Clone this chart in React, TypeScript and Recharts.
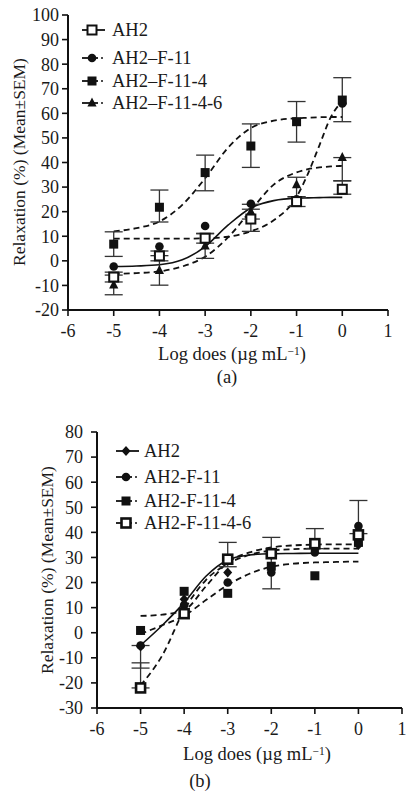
import React from "react";
import { ComposedChart, Line, XAxis, YAxis, ErrorBar } from "recharts";

const FONT = '"Liberation Serif", Tinos, "Times New Roman", "DejaVu Serif", serif';

// shared
const doses = [-5, -4, -3, -2, -1, 0];
const xTicks = [-6, -5, -4, -3, -2, -1, 0, 1];
const fitX = [-5, -4.5, -4, -3.5, -3, -2.5, -2, -1.5, -1, -0.75, -0.5, -0.25, 0];
const yTicksA = [-20, -10, 0, 10, 20, 30, 40, 50, 60, 70, 80, 90, 100];
const yTicksB = [-30, -20, -10, 0, 10, 20, 30, 40, 50, 60, 70, 80];
const namesA = ["AH2", "AH2\u2013F-11", "AH2\u2013F-11-4", "AH2\u2013F-11-4-6"];
const namesB = ["AH2", "AH2-F-11", "AH2-F-11-4", "AH2-F-11-4-6"];

// panel (a) means and errors [down, up]
const aAh2 = [-6.6, 2.0, 9.2, 17, 24.1, 29.1];
const aAh2Err = [[2, 2], [2, 2], [2, 2], [5, 4], [2, 2], [2, 3.5]];
const aF11 = [-2.3, 5.8, 14.2, 23.2, 25, 64];
const aF114 = [6.8, 21.8, 35.9, 46.7, 56.6, 65.4];
const aF114Err = [[5, 5], [6, 7], [7.4, 7.1], [8.7, 9], [8.3, 8.2], [8.8, 9.1]];
const aF1146 = [-9.8, -3.9, 6, 20, 31, 42];
const aF1146Err = [[4, 4], [6, 6], [5, 5], [3, 3], [5, 3], [9.5, 0]];
// panel (a) fitted curves at fitX
const aAh2Fit = [-2.3, -2.1, -1.6, 0.4, 5.8, 14.5, 21.5, 24.5, 25.5, 25.6, 25.7, 25.8, 25.8];
const aF11Fit = [9, 9, 9, 9, 9.2, 9.8, 12, 16.5, 26, 35.5, 47, 58.5, 65];
const aF114Fit = [12, 13.3, 16, 22.8, 33.6, 46, 54, 57, 58, 58.2, 58.4, 58.5, 58.5];
const aF1146Fit = [-5.3, -5, -4.3, -2.3, 1.7, 9.5, 20.5, 31, 36, 37.3, 38, 38.4, 38.6];

// panel (b)
const bAh2 = [-5.5, 13.3, 24, 31, 33, 35];
const bF11 = [-5.1, 11, 20, 24, 32, 42.5];
const bF11Err = [[9, 0], null, null, null, null, [3, 10.2]];
const bF114 = [0.9, 16.5, 15.7, 26.5, 22.7, 36];
const bF114Err = [null, null, null, [9, 11.5], null, null];
const bF1146 = [-22, 7.6, 29.3, 31.5, 35.5, 39];
const bF1146Err = [[0, 10], null, [3, 6.7], null, [2, 6], null];
const bAh2Fit = [-5, 3, 12, 22.5, 29, 31, 31.5, 31.6, 31.7, 31.7, 31.7, 31.7, 31.7];
const bF11Fit = [6.7, 7.2, 9, 18.5, 28, 32, 34, 34.8, 35.1, 35.2, 35.2, 35.2, 35.2];
const bF114Fit = [-0.5, 3, 6.7, 13, 19, 23.5, 26.3, 27.5, 28, 28.1, 28.2, 28.3, 28.3];
const bF1146Fit = [-21, -9, 9, 21, 27.5, 31, 32.8, 33.3, 33.5, 33.5, 33.5, 33.5, 33.5];

type S = {
  key: string;
  mean: number[];
  err?: (number[] | null)[];
  fit: number[];
  shape: string;
  solid: boolean;
};

const seriesA: S[] = [
  { key: "ah2", mean: aAh2, err: aAh2Err, fit: aAh2Fit, shape: "open", solid: true },
  { key: "f11", mean: aF11, fit: aF11Fit, shape: "circle", solid: false },
  { key: "f114", mean: aF114, err: aF114Err, fit: aF114Fit, shape: "square", solid: false },
  { key: "f1146", mean: aF1146, err: aF1146Err, fit: aF1146Fit, shape: "triangle", solid: false },
];
const seriesB: S[] = [
  { key: "ah2", mean: bAh2, fit: bAh2Fit, shape: "diamond", solid: true },
  { key: "f11", mean: bF11, err: bF11Err, fit: bF11Fit, shape: "circle", solid: false },
  { key: "f114", mean: bF114, err: bF114Err, fit: bF114Fit, shape: "square", solid: false },
  { key: "f1146", mean: bF1146, err: bF1146Err, fit: bF1146Fit, shape: "openThick", solid: false },
];
const drawOrderA = ["f11", "f1146", "f114", "ah2"];
const drawOrderB = ["ah2", "f11", "f114", "f1146"];

function buildRows(list: S[]) {
  const xs = Array.from(new Set([...fitX, ...doses])).sort((a, b) => a - b);
  return xs.map((x) => {
    const row: Record<string, any> = { x };
    const fi = fitX.indexOf(x);
    const di = doses.indexOf(x);
    list.forEach((s) => {
      if (fi >= 0) row[s.key + "Fit"] = s.fit[fi];
      if (di >= 0) {
        row[s.key] = s.mean[di];
        const e = s.err ? s.err[di] : null;
        if (e) row[s.key + "Err"] = e;
      }
    });
    return row;
  });
}

function shapeEl(shape: string, cx: number, cy: number) {
  switch (shape) {
    case "open":
      return <rect x={cx - 4.5} y={cy - 4.5} width={9} height={9} fill="#fff" stroke="#111" strokeWidth={2} />;
    case "openThick":
      return <rect x={cx - 4.5} y={cy - 4.5} width={9} height={9} fill="#fff" stroke="#111" strokeWidth={2.6} />;
    case "square":
      return <rect x={cx - 4.5} y={cy - 4.5} width={9} height={9} fill="#111" />;
    case "circle":
      return <circle cx={cx} cy={cy} r={4.3} fill="#111" />;
    case "triangle":
      return <polygon points={`${cx},${cy - 5.5} ${cx - 4.6},${cy + 3.5} ${cx + 4.6},${cy + 3.5}`} fill="#111" />;
    case "diamond":
      return <polygon points={`${cx},${cy - 5} ${cx - 4.5},${cy} ${cx},${cy + 5} ${cx + 4.5},${cy}`} fill="#111" />;
    default:
      return null;
  }
}

const makeDot = (s: S) => (p: any) => {
  const { cx, cy, index, payload } = p;
  if (cx == null || cy == null || !payload || payload[s.key] == null || isNaN(cy)) {
    return <g key={`n-${s.key}-${index}`} />;
  }
  return <g key={`d-${s.key}-${index}`}>{shapeEl(s.shape, cx, cy)}</g>;
};

type PanelProps = {
  series: S[];
  order: string[];
  yDomain: number[];
  yTicks: number[];
  height: number;
  margin: any;
  yAxisWidth: number;
  xAxisHeight: number;
  yTickMargin: number;
};

function Panel(props: PanelProps) {
  const rows = buildRows(props.series);
  const ordered = props.order.map((k) => props.series.find((s) => s.key === k) as S);
  const tickStyle = { fontSize: 18, fill: "#1a1a1a", style: { fontFamily: FONT } };
  return (
    <ComposedChart width={408} height={props.height} data={rows} margin={props.margin}>
      <XAxis
        dataKey="x"
        type="number"
        domain={[-6, 1]}
        ticks={xTicks}
        interval={0}
        allowDataOverflow
        tickSize={6}
        tickMargin={8}
        height={props.xAxisHeight}
        axisLine={{ stroke: "#111", strokeWidth: 2 }}
        tickLine={{ stroke: "#111", strokeWidth: 1.6 }}
        tick={tickStyle}
      />
      <YAxis
        type="number"
        domain={props.yDomain}
        ticks={props.yTicks}
        interval={0}
        allowDataOverflow
        width={props.yAxisWidth}
        tickSize={6}
        tickMargin={props.yTickMargin}
        axisLine={{ stroke: "#111", strokeWidth: 2 }}
        tickLine={{ stroke: "#111", strokeWidth: 1.6 }}
        tick={tickStyle}
      />
      {props.series.map((s) => (
        <Line
          key={s.key + "Fit"}
          dataKey={s.key + "Fit"}
          type="monotone"
          stroke="#111"
          strokeWidth={s.solid ? 1.6 : 1.8}
          strokeDasharray={s.solid ? undefined : "6 4"}
          dot={false}
          activeDot={false}
          connectNulls
          isAnimationActive={false}
        />
      ))}
      {ordered.map((s) => (
        <Line
          key={s.key}
          dataKey={s.key}
          stroke="none"
          strokeWidth={0}
          dot={makeDot(s)}
          activeDot={false}
          isAnimationActive={false}
        >
          {s.err ? (
            <ErrorBar dataKey={s.key + "Err"} width={9} stroke="#333" strokeWidth={1.3} direction="y" />
          ) : null}
        </Line>
      ))}
    </ComposedChart>
  );
}

const textStyle = { fontFamily: FONT, fontSize: 18.5 };
const yLabelStyle = { fontFamily: FONT, fontSize: 17.5 };

function LegendBlock({ names, shapes, rows, lineX0, lineX1, markX, textX }: any) {
  return (
    <g>
      {names.map((n: string, i: number) => {
        const y = rows[i];
        const solid = i === 0;
        return (
          <g key={n}>
            {solid ? (
              <line x1={lineX0} x2={lineX1 + 4} y1={y} y2={y} stroke="#111" strokeWidth={1.8} />
            ) : (
              <g>
                <line x1={lineX0} x2={lineX1 - 3} y1={y} y2={y} stroke="#111" strokeWidth={1.8} />
                <circle cx={lineX1 + 1} cy={y} r={1} fill="#111" />
              </g>
            )}
            {shapeEl(shapes[i], markX, y)}
            <text x={textX} y={y + 6} style={textStyle} fill="#1a1a1a">
              {n}
            </text>
          </g>
        );
      })}
    </g>
  );
}

function XLabel({ x, y }: { x: number; y: number }) {
  return (
    <text x={x} y={y} textAnchor="middle" style={textStyle} fill="#1a1a1a">
      Log does (µg mL
      <tspan dy={-5.5} style={{ fontSize: 11.5 }}>
        −1
      </tspan>
      <tspan dy={5.5}>)</tspan>
    </text>
  );
}

function YLabel({ x, y }: { x: number; y: number }) {
  return (
    <text transform={`translate(${x},${y}) rotate(-90)`} textAnchor="middle" style={yLabelStyle} fill="#1a1a1a">
      Relaxation (%) (Mean±SEM)
    </text>
  );
}

export default function App() {
  return (
    <div
      style={{
        position: "absolute",
        left: 0,
        top: 0,
        width: 408,
        height: 794,
        background: "#fff",
        fontFamily: FONT,
      }}
    >
      <div style={{ position: "absolute", left: 0, top: 0 }}>
        <Panel
          series={seriesA}
          order={drawOrderA}
          yDomain={[-20, 100]}
          yTicks={yTicksA}
          height={390}
          margin={{ top: 15, right: 20, bottom: 0, left: 0 }}
          yAxisWidth={68}
          xAxisHeight={80}
          yTickMargin={3}
        />
      </div>
      <div style={{ position: "absolute", left: 0, top: 400 }}>
        <Panel
          series={seriesB}
          order={drawOrderB}
          yDomain={[-30, 80]}
          yTicks={yTicksB}
          height={394}
          margin={{ top: 32, right: 6, bottom: 0, left: 0 }}
          yAxisWidth={97}
          xAxisHeight={86}
          yTickMargin={8}
        />
      </div>
      <svg width={408} height={794} style={{ position: "absolute", left: 0, top: 0, pointerEvents: "none" }}>
        <LegendBlock
          names={namesA}
          shapes={["open", "circle", "square", "triangle"]}
          rows={[30, 58, 81, 103]}
          lineX0={82}
          lineX1={101}
          markX={92}
          textX={112}
        />
        <LegendBlock
          names={namesB}
          shapes={["diamond", "circle", "square", "openThick"]}
          rows={[451, 477, 501, 523]}
          lineX0={116}
          lineX1={135}
          markX={126}
          textX={144}
        />
        <YLabel x={25} y={162} />
        <YLabel x={53} y={570} />
        <XLabel x={232} y={360} />
        <XLabel x={257} y={760} />
        <text x={227} y={383} textAnchor="middle" style={textStyle} fill="#1a1a1a">
          (a)
        </text>
        <text x={200} y={787} textAnchor="middle" style={textStyle} fill="#1a1a1a">
          (b)
        </text>
      </svg>
    </div>
  );
}
